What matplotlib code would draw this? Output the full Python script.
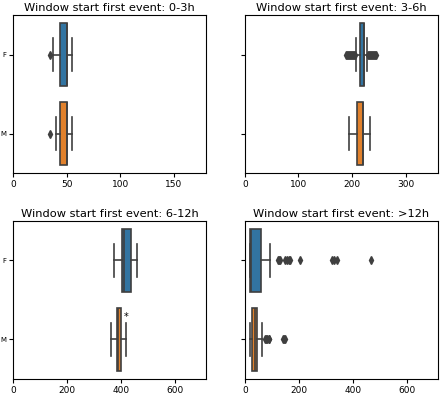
import matplotlib
matplotlib.use("Agg")
import matplotlib.pyplot as plt

# categories and panels
genders = ["F", "M"]
windows = ["0-3h", "3-6h", "6-12h", ">12h"]
xlims = [180, 360, 715, 715]

# box stats per window, per gender: whislo, q1, med, q3, whishi
stats_03 = [(37, 44, 50, 50, 55), (39.5, 44, 50, 50, 55)]
stats_36 = [(207, 214, 222, 222, 228), (195, 210, 220, 220, 233)]
stats_612 = [(372, 403, 411, 435, 458), (363, 383, 388, 399, 419)]
stats_12 = [(21, 21, 22, 61, 93), (18.5, 27, 37, 47, 64)]

fliers_03 = [[34.5], [34.5]]
fliers_36 = [[188, 190, 192, 194, 196, 198, 200, 202, 204, 205,
              229, 231, 233, 235, 237, 239, 241, 243, 245], []]
fliers_612 = [[], []]
fliers_12 = [[123, 127, 131, 150, 157, 164, 168, 204, 322, 330, 340, 467],
             [74, 78, 84, 88, 91, 143, 146, 149]]

all_stats = [stats_03, stats_36, stats_612, stats_12]
all_fliers = [fliers_03, fliers_36, fliers_612, fliers_12]
colors = ["#3274a1", "#e1812c"]
gray = "#3f3f3f"

fig, axes = plt.subplots(2, 2, figsize=(4.4, 3.94), dpi=100)
plt.subplots_adjust(left=0.03, right=0.995, top=0.962, bottom=0.038,
                    wspace=0.2, hspace=0.3)

for i, ax in enumerate(axes.flat):
    bstats = []
    for (lo, q1, med, q3, hi), fl in zip(all_stats[i], all_fliers[i]):
        bstats.append(dict(whislo=lo, q1=q1, med=med, q3=q3, whishi=hi, fliers=fl))
    bp = ax.bxp(bstats, positions=[0, 1], widths=0.8, vert=False,
                patch_artist=True, showfliers=True,
                boxprops=dict(edgecolor=gray, linewidth=1.2),
                medianprops=dict(color=gray, linewidth=1.2),
                whiskerprops=dict(color=gray, linewidth=1.2),
                capprops=dict(color=gray, linewidth=1.2),
                flierprops=dict(marker="d", markerfacecolor=gray,
                                markeredgecolor=gray, markersize=4))
    for patch, c in zip(bp["boxes"], colors):
        patch.set_facecolor(c)
    for cap in bp["caps"]:
        y = cap.get_ydata()
        mid = (y[0] + y[1]) / 2
        cap.set_ydata([mid - 0.21, mid + 0.21])
    ax.set_ylim(1.5, -0.5)
    ax.set_xlim(0, xlims[i])
    ax.set_yticks([0, 1])
    if i % 2 == 0:
        ax.set_yticklabels(genders, fontsize=5)
    else:
        ax.set_yticklabels([])
    ax.tick_params(axis="x", labelsize=6.5, length=3, pad=2)
    ax.tick_params(axis="y", length=3, pad=2)
    ax.set_title("Window start first event: " + windows[i], fontsize=8.2, pad=3)

axes[1, 0].text(420, 0.72, "*", ha="center", va="center", fontsize=7)

fig.savefig("out.png")
